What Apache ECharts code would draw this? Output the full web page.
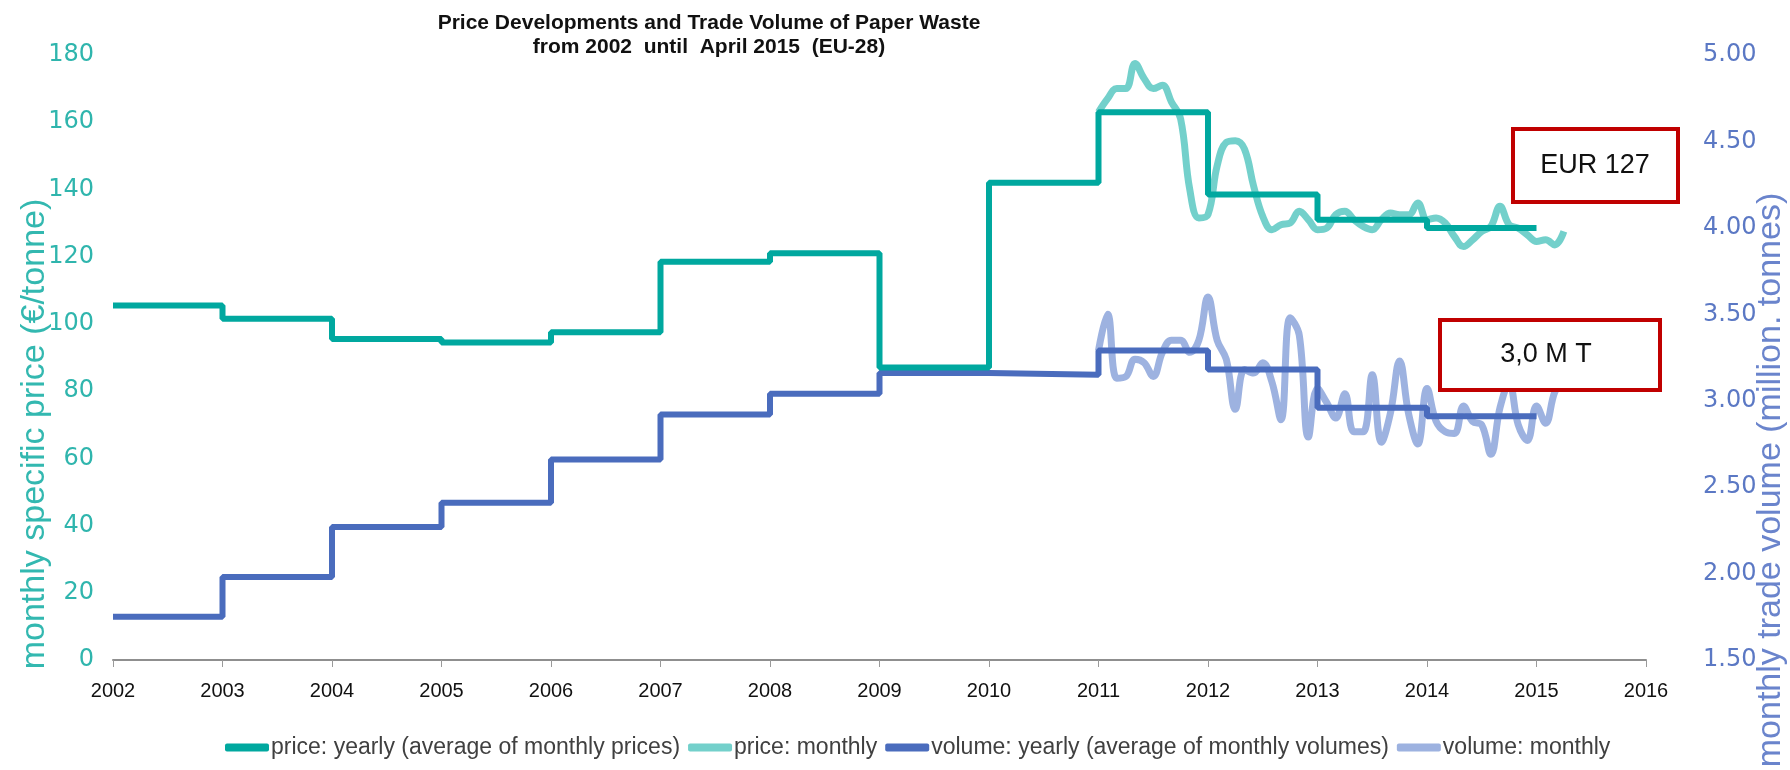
<!DOCTYPE html>
<html>
<head>
<meta charset="utf-8">
<title>Price Developments and Trade Volume of Paper Waste</title>
<script src="https://cdn.jsdelivr.net/npm/echarts@6/dist/echarts.min.js"></script>
<style>
  html, body { margin: 0; padding: 0; background: #fff; }
  #chart { width: 1790px; height: 770px; }
</style>
</head>
<body>
<div id="chart"></div>
<script>
// yearly averages, one value per year (step drawn from year to year+1)
const years = [2002, 2003, 2004, 2005, 2006, 2007, 2008, 2009, 2010, 2011, 2012, 2013, 2014]
const priceYearly = [105.5, 101.5, 95.5, 94.5, 97.5, 118.5, 121, 87, 142, 163, 138.5, 131, 128.5]
const volumeYearly = [1.75, 1.98, 2.27, 2.41, 2.66, 2.92, 3.04, 3.16, 3.15, 3.29, 3.18, 2.96, 2.91]

// monthly values, Jan 2011 .. Apr 2015
const monthStart = 2011
const priceMonthly = [
  163, 167, 170, 170, 177.5, 173, 170, 171, 166, 161, 140, 131.5,
  132.5, 147, 154, 154.5, 152, 141, 132, 128, 129.5, 130, 133.5, 131,
  128, 128.5, 132.5, 133.5, 131, 129, 128, 131, 133, 132.5, 132.5, 136,
  131, 131.5, 130, 126, 123, 125, 127.5, 129, 135, 129.5, 128.5, 126.5,
  124.5, 125, 123.5, 127.5
]
const volumeMonthly = [
  3.29, 3.50, 3.13, 3.14, 3.24, 3.22, 3.14, 3.28, 3.35, 3.35, 3.28, 3.35,
  3.60, 3.35, 3.24, 2.95, 3.18, 3.16, 3.22, 3.11, 2.89, 3.48, 3.38, 2.79,
  3.07, 2.99, 2.90, 3.04, 2.82, 2.82, 3.15, 2.76, 2.93, 3.23, 2.92, 2.75,
  3.07, 2.88, 2.82, 2.81, 2.97, 2.88, 2.86, 2.69, 2.96, 3.10, 2.86, 2.77,
  2.97, 2.87, 3.05, 3.12
]

const xTicks = [2002, 2016]
const priceTicks = [0, 180, 20]
const volumeTicks = [1.5, 5.0, 0.5]

const chart = echarts.init(document.getElementById('chart'))

// step line: each yearly value holds until the next year, last one until year+1
const stepData = (vals) => {
  const d = years.map((y, i) => [y, vals[i]])
  d.push([years[years.length - 1] + 1, vals[vals.length - 1]])
  return d
}
const monthData = (vals) => vals.map((v, i) => [monthStart + i / 12, v])

const PRICE = '#00a89f'
const VOLUME = '#4a6cbd'
const PRICE_M = 'rgba(48, 186, 178, 0.68)'
const VOLUME_M = 'rgba(92, 126, 204, 0.6)'

const option = {
  backgroundColor: '#fff',
  animation: false,
  title: {
    text: 'Price Developments and Trade Volume of Paper Waste\nfrom 2002  until  April 2015  (EU-28)',
    left: 704,
    top: 6,
    textAlign: 'center',
    textStyle: {
      fontFamily: 'Liberation Sans',
      fontSize: 21,
      fontWeight: 'bold',
      color: '#111',
      lineHeight: 24
    }
  },
  grid: { left: 113, right: 144, top: 55, bottom: 110 },
  legend: {
    left: 220,
    top: 731,
    itemWidth: 44,
    itemHeight: 8,
    itemGap: 8,
    icon: 'roundRect',
    textStyle: {
      fontFamily: 'Liberation Sans',
      fontSize: 23,
      color: '#404040',
      padding: [0, 0, 0, -3]
    }
  },
  xAxis: {
    type: 'value',
    min: xTicks[0],
    max: xTicks[1],
    interval: 1,
    axisLine: { lineStyle: { color: '#8f8f8f', width: 2 } },
    axisTick: { show: true, length: 7, lineStyle: { color: '#9a9a9a' } },
    splitLine: { show: false },
    axisLabel: {
      margin: 21,
      fontFamily: 'Liberation Sans',
      fontSize: 20,
      color: '#111',
      formatter: (v) => String(v)
    }
  },
  yAxis: [
    {
      type: 'value',
      min: priceTicks[0],
      max: priceTicks[1],
      interval: priceTicks[2],
      axisLine: { show: false },
      axisTick: { show: false },
      splitLine: { show: false },
      axisLabel: {
        margin: 19,
        fontFamily: 'DejaVu Sans',
        fontSize: 24,
        color: '#2fb5ad'
      }
    },
    {
      type: 'value',
      position: 'right',
      min: volumeTicks[0],
      max: volumeTicks[1],
      interval: volumeTicks[2],
      axisLine: { show: false },
      axisTick: { show: false },
      splitLine: { show: false },
      axisLabel: {
        margin: 57,
        fontFamily: 'DejaVu Sans',
        fontSize: 24,
        color: '#5b78c4',
        formatter: (v) => v.toFixed(2)
      }
    }
  ],
  series: [
    {
      name: 'price: yearly (average of monthly prices)',
      type: 'line',
      yAxisIndex: 0,
      step: 'end',
      symbol: 'none',
      z: 4,
      itemStyle: { color: PRICE },
      lineStyle: { color: PRICE, width: 6 },
      data: stepData(priceYearly)
    },
    {
      name: 'price: monthly',
      type: 'line',
      yAxisIndex: 0,
      smooth: 0.4,
      symbol: 'none',
      z: 2,
      itemStyle: { color: PRICE_M },
      lineStyle: { color: PRICE_M, width: 7 },
      data: monthData(priceMonthly)
    },
    {
      name: 'volume: yearly (average of monthly volumes)',
      type: 'line',
      yAxisIndex: 1,
      step: 'end',
      symbol: 'none',
      z: 3,
      itemStyle: { color: VOLUME },
      lineStyle: { color: VOLUME, width: 6 },
      data: stepData(volumeYearly)
    },
    {
      name: 'volume: monthly',
      type: 'line',
      yAxisIndex: 1,
      smooth: 0.4,
      symbol: 'none',
      z: 2,
      itemStyle: { color: VOLUME_M },
      lineStyle: { color: VOLUME_M, width: 7 },
      data: monthData(volumeMonthly)
    }
  ],
  graphic: [
    // axis titles
    {
      type: 'text', x: 35, y: 434, rotation: Math.PI / 2,
      style: {
        text: 'monthly specific price (€/tonne)',
        fontFamily: 'Liberation Sans', fontSize: 34, fill: '#33b8b0',
        align: 'center', verticalAlign: 'middle'
      }
    },
    {
      type: 'text', x: 1771, y: 480, rotation: Math.PI / 2,
      style: {
        text: 'monthly trade volume (million. tonnes)',
        fontFamily: 'Liberation Sans', fontSize: 34, fill: '#6a84cc',
        align: 'center', verticalAlign: 'middle'
      }
    },
    // callout boxes
    {
      type: 'rect', z: 100,
      shape: { x: 1513, y: 129, width: 165, height: 73 },
      style: { fill: '#fff', stroke: '#c00000', lineWidth: 4 }
    },
    {
      type: 'text', z: 101, x: 1595, y: 166,
      style: {
        text: 'EUR 127', fontFamily: 'Liberation Sans', fontSize: 27, fill: '#111',
        align: 'center', verticalAlign: 'middle'
      }
    },
    {
      type: 'rect', z: 100,
      shape: { x: 1440, y: 320, width: 220, height: 70 },
      style: { fill: '#fff', stroke: '#c00000', lineWidth: 4 }
    },
    {
      type: 'text', z: 101, x: 1546, y: 355,
      style: {
        text: '3,0 M T', fontFamily: 'Liberation Sans', fontSize: 27, fill: '#111',
        align: 'center', verticalAlign: 'middle'
      }
    }
  ]
}

chart.setOption(option)
window.addEventListener('resize', () => chart.resize())
</script>
</body>
</html>
